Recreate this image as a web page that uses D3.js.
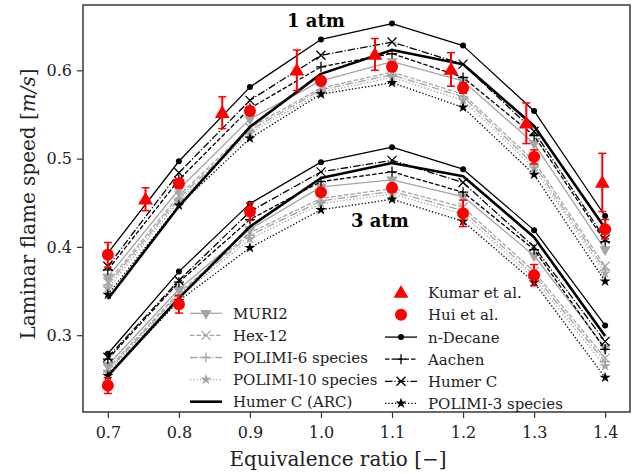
<!DOCTYPE html>
<html>
<head>
<meta charset="utf-8">
<script src="https://cdn.jsdelivr.net/npm/d3@7"></script>
<style>
  body { margin: 0; background: #fff; }
  svg { font-family: "DejaVu Serif", serif; }
</style>
</head>
<body>
<svg id="drawing_region"></svg>
<script>
// equivalence ratio grid used by every mechanism
const phi = [0.7, 0.8, 0.9, 1.0, 1.1, 1.2, 1.3, 1.4];
const xTicks = [0.7, 0.8, 0.9, 1.0, 1.1, 1.2, 1.3, 1.4];
const yTicks = [0.3, 0.4, 0.5, 0.6];

// 1 atm
const muri2_1    = [0.366, 0.465, 0.545, 0.588, 0.610, 0.588, 0.517, 0.397];
const hex12_1    = [0.360, 0.458, 0.535, 0.580, 0.598, 0.573, 0.497, 0.378];
const polimi6_1  = [0.357, 0.455, 0.532, 0.578, 0.595, 0.570, 0.493, 0.374];
const polimi10_1 = [0.353, 0.452, 0.529, 0.575, 0.592, 0.566, 0.489, 0.370];
const arc_1      = [0.341, 0.446, 0.536, 0.596, 0.623, 0.607, 0.537, 0.421];
const ndecane_1  = [0.393, 0.497, 0.581, 0.635, 0.653, 0.628, 0.554, 0.435];
const aachen_1   = [0.374, 0.476, 0.557, 0.604, 0.619, 0.592, 0.526, 0.406];
const humerC_1   = [0.378, 0.484, 0.566, 0.617, 0.632, 0.607, 0.531, 0.409];
const polimi3_1  = [0.346, 0.447, 0.523, 0.573, 0.586, 0.558, 0.482, 0.361];

// 3 atm
const muri2_3    = [0.266, 0.352, 0.420, 0.468, 0.476, 0.457, 0.390, 0.286];
const hex12_3    = [0.262, 0.348, 0.416, 0.455, 0.466, 0.445, 0.372, 0.274];
const polimi6_3  = [0.260, 0.346, 0.413, 0.452, 0.463, 0.441, 0.368, 0.270];
const polimi10_3 = [0.258, 0.343, 0.409, 0.449, 0.460, 0.437, 0.364, 0.265];
const arc_3      = [0.254, 0.342, 0.423, 0.478, 0.495, 0.480, 0.411, 0.299];
const ndecane_3  = [0.279, 0.372, 0.449, 0.496, 0.513, 0.488, 0.419, 0.311];
const aachen_3   = [0.273, 0.360, 0.431, 0.474, 0.485, 0.462, 0.397, 0.284];
const humerC_3   = [0.275, 0.362, 0.440, 0.485, 0.498, 0.473, 0.400, 0.293];
const polimi3_3  = [0.254, 0.339, 0.399, 0.442, 0.454, 0.429, 0.360, 0.252];

// experiments
const kumarPhi = [0.753, 0.861, 0.966, 1.076, 1.183, 1.289, 1.396];
const kumar_1  = [0.454, 0.552, 0.600, 0.618, 0.601, 0.540, 0.473];
const kumarErr = [0.013, 0.018, 0.023, 0.018, 0.019, 0.023, 0.033];
const hui_1    = [0.391, 0.472, 0.554, 0.588, 0.604, 0.580, 0.502, 0.420];
const huiErr_1 = [0.014, 0.005, 0.005, 0.005, 0.005, 0.006, 0.008, 0.011];
const huiPhi_3 = [0.7, 0.8, 0.9, 1.0, 1.1, 1.2, 1.3];
const hui_3    = [0.243, 0.335, 0.440, 0.462, 0.467, 0.438, 0.368];
const huiErr_3 = [0.009, 0.010, 0.010, 0.004, 0.004, 0.015, 0.012];

const GRAY = '#a5a5a5';
const RED = '#ff0000';

const models = [
  {name: 'MURI2',             d1: muri2_1,    d3: muri2_3,    color: GRAY,   width: 1.3, dash: null,          marker: 'tri_down'},
  {name: 'Hex-12',            d1: hex12_1,    d3: hex12_3,    color: GRAY,   width: 1.3, dash: '4.5,2',       marker: 'x'},
  {name: 'POLIMI-6 species',  d1: polimi6_1,  d3: polimi6_3,  color: GRAY,   width: 1.3, dash: '7.5,2,1.2,2', marker: 'plus'},
  {name: 'POLIMI-10 species', d1: polimi10_1, d3: polimi10_3, color: GRAY,   width: 1.3, dash: '1.3,2',       marker: 'star'},
  {name: 'Humer C (ARC)',     d1: arc_1,      d3: arc_3,      color: '#000', width: 2.6, dash: null,          marker: null},
  {name: 'n-Decane',          d1: ndecane_1,  d3: ndecane_3,  color: '#000', width: 1.3, dash: null,          marker: 'dot'},
  {name: 'Aachen',            d1: aachen_1,   d3: aachen_3,   color: '#000', width: 1.3, dash: '4.5,2',       marker: 'plus'},
  {name: 'Humer C',           d1: humerC_1,   d3: humerC_3,   color: '#000', width: 1.3, dash: '7.5,2,1.2,2', marker: 'x'},
  {name: 'POLIMI-3 species',  d1: polimi3_1,  d3: polimi3_3,  color: '#000', width: 1.3, dash: '1.3,2',       marker: 'star'}
];

const width = 636, height = 474;
const margin = {left: 83, right: 6, top: 5, bottom: 62};

const svg = d3.select('#drawing_region')
  .attr('width', width)
  .attr('height', height);

const x = d3.scaleLinear().domain([0.665, 1.435]).range([margin.left, width - margin.right]);
const y = d3.scaleLinear().domain([0.213, 0.674]).range([height - margin.bottom, margin.top]);

const line = d3.line().x(d => x(d[0])).y(d => y(d[1]));

function drawMarker(g, type, cx, cy, color, scale) {
  const s = scale || 1;
  if (type === 'tri_down') {
    g.append('path')
      .attr('d', d3.symbol().type(d3.symbolTriangle).size(55 * s)())
      .attr('transform', `translate(${cx},${cy}) rotate(180)`)
      .attr('fill', color);
  } else if (type === 'star') {
    g.append('path')
      .attr('d', d3.symbol().type(d3.symbolStar).size(38 * s)())
      .attr('transform', `translate(${cx},${cy})`)
      .attr('fill', color);
  } else if (type === 'x') {
    const r = 4.5 * s;
    g.append('path')
      .attr('d', `M${-r},${-r}L${r},${r}M${-r},${r}L${r},${-r}`)
      .attr('transform', `translate(${cx},${cy})`)
      .attr('stroke', color).attr('stroke-width', 1.3).attr('fill', 'none');
  } else if (type === 'plus') {
    const r = 5 * s;
    g.append('path')
      .attr('d', `M${-r},0L${r},0M0,${-r}L0,${r}`)
      .attr('transform', `translate(${cx},${cy})`)
      .attr('stroke', color).attr('stroke-width', 1.3).attr('fill', 'none');
  } else if (type === 'dot') {
    g.append('circle').attr('cx', cx).attr('cy', cy).attr('r', 3 * s).attr('fill', color);
  } else if (type === 'circle') {
    g.append('circle').attr('cx', cx).attr('cy', cy).attr('r', 6 * s).attr('fill', color);
  } else if (type === 'tri_up') {
    g.append('path')
      .attr('d', d3.symbol().type(d3.symbolTriangle).size(95 * s)())
      .attr('transform', `translate(${cx},${cy + 1})`)
      .attr('fill', color);
  }
}

// model curves
const plot = svg.append('g');
models.forEach(m => {
  [m.d1, m.d3].forEach(vals => {
    const pts = phi.map((p, i) => [p, vals[i]]);
    plot.append('path')
      .attr('d', line(pts))
      .attr('fill', 'none')
      .attr('stroke', m.color)
      .attr('stroke-width', m.width)
      .attr('stroke-dasharray', m.dash)
      .attr('stroke-linejoin', 'round');
    if (m.marker) pts.forEach(p => drawMarker(plot, m.marker, x(p[0]), y(p[1]), m.color));
  });
});

// experimental points with error bars
function errorBars(g, xs, ys, es, marker) {
  xs.forEach((p, i) => {
    const cx = x(p);
    g.append('line')
      .attr('x1', cx).attr('x2', cx)
      .attr('y1', y(ys[i] - es[i])).attr('y2', y(ys[i] + es[i]))
      .attr('stroke', RED).attr('stroke-width', 2);
    [ys[i] - es[i], ys[i] + es[i]].forEach(v => {
      g.append('line')
        .attr('x1', cx - 4).attr('x2', cx + 4)
        .attr('y1', y(v)).attr('y2', y(v))
        .attr('stroke', RED).attr('stroke-width', 1.5);
    });
    drawMarker(g, marker, cx, y(ys[i]), RED);
  });
}
errorBars(plot, kumarPhi, kumar_1, kumarErr, 'tri_up');
errorBars(plot, phi, hui_1, huiErr_1, 'circle');
errorBars(plot, huiPhi_3, hui_3, huiErr_3, 'circle');

// axes
const xAxis = svg.append('g')
  .attr('transform', `translate(0,${height - margin.bottom})`)
  .call(d3.axisBottom(x).tickValues(xTicks).tickFormat(d3.format('.1f')).tickSize(6).tickPadding(9));
const yAxis = svg.append('g')
  .attr('transform', `translate(${margin.left},0)`)
  .call(d3.axisLeft(y).tickValues(yTicks).tickFormat(d3.format('.1f')).tickSize(6).tickPadding(5));
[xAxis, yAxis].forEach(a => {
  a.select('.domain').remove();
  a.selectAll('.tick line').attr('stroke', '#333').attr('stroke-width', 1.2);
  a.selectAll('.tick text').attr('font-family', '"DejaVu Serif", serif').attr('font-size', 16).attr('fill', '#222');
});

svg.append('rect')
  .attr('x', margin.left).attr('y', margin.top)
  .attr('width', width - margin.left - margin.right)
  .attr('height', height - margin.top - margin.bottom)
  .attr('fill', 'none').attr('stroke', '#444').attr('stroke-width', 1.6);

svg.append('text')
  .attr('x', 338).attr('y', 466)
  .attr('text-anchor', 'middle').attr('font-size', 20).attr('fill', '#222')
  .text('Equivalence ratio [\u2212]');

const yl = svg.append('text')
  .attr('transform', 'translate(35,204) rotate(-90)')
  .attr('text-anchor', 'middle').attr('font-size', 20).attr('fill', '#222');
yl.append('tspan').text('Laminar flame speed [');
yl.append('tspan').attr('font-style', 'italic').text('m/s');
yl.append('tspan').text(']');

svg.append('text').attr('x', 316).attr('y', 27).attr('text-anchor', 'middle')
  .attr('font-size', 18).attr('font-weight', 'bold').text('1 atm');
svg.append('text').attr('x', 380).attr('y', 227).attr('text-anchor', 'middle')
  .attr('font-size', 18).attr('font-weight', 'bold').text('3 atm');

// legends
function legendEntry(g, lx, ly, label, color, lw, dash, marker) {
  if (lw) {
    g.append('line')
      .attr('x1', lx).attr('x2', lx + 32).attr('y1', ly).attr('y2', ly)
      .attr('stroke', color).attr('stroke-width', lw).attr('stroke-dasharray', dash);
  }
  if (marker) drawMarker(g, marker, lx + 16, ly, color);
  g.append('text')
    .attr('x', lx + 43).attr('y', ly + 5.5)
    .attr('font-size', 15).attr('fill', '#222')
    .text(label);
}
const legend = svg.append('g');
models.slice(0, 5).forEach((m, i) => legendEntry(legend, 190, 313.3 + i * 22.1, m.name, m.color, m.width, m.dash, m.marker));
legendEntry(legend, 385, 292.5, 'Kumar et al.', RED, 0, null, 'tri_up');
legendEntry(legend, 385, 314.8, 'Hui et al.', RED, 0, null, 'circle');
models.slice(5).forEach((m, i) => legendEntry(legend, 385, 337.1 + i * 22.1, m.name, m.color, m.width, m.dash, m.marker));
</script>
</body>
</html>
